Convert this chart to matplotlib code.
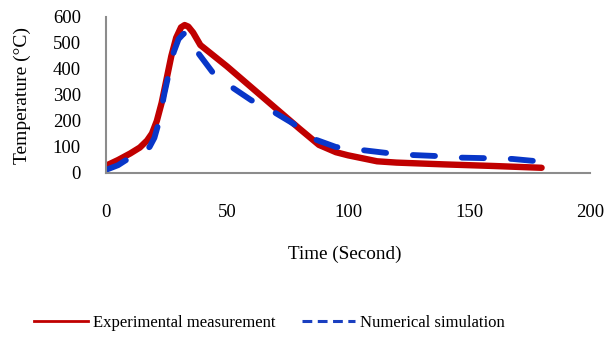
import matplotlib
matplotlib.use("Agg")
import matplotlib.pyplot as plt

t_exp = [0, 5, 10, 14, 17, 19, 21, 23, 25, 27, 29, 31, 32.5, 34, 36, 39, 50, 60, 70, 80, 88, 95, 100, 112, 120, 140, 160, 180]
T_exp = [28, 50, 75, 98, 125, 152, 200, 270, 360, 450, 520, 560, 569, 563, 540, 492, 410, 330, 250, 170, 108, 80, 68, 45, 40, 33, 27, 20]

t_num = [0, 5, 8, 12, 15, 18, 20, 22, 24, 26, 28, 30, 32, 33, 35, 37, 39, 44, 52, 60, 70, 77, 87, 95, 106, 116, 127, 137, 147, 157, 168, 176, 180]
T_num = [12, 30, 48, 65, 80, 100, 135, 200, 300, 385, 465, 515, 535, 538, 505, 475, 450, 388, 330, 280, 231, 192, 127, 100, 88, 77, 69, 65, 59, 57, 54, 47, 44]

x_ticks = [0, 50, 100, 150, 200]
y_ticks = [0, 100, 200, 300, 400, 500, 600]

plt.rcParams['font.family'] = ['Liberation Serif', 'DejaVu Serif']

fig = plt.figure(figsize=(6.06, 3.39), dpi=100)
ax = fig.add_axes([0.1749, 0.4897, 0.7987, 0.4602])

ax.plot(t_exp, T_exp, color='#c00000', lw=4.6, solid_capstyle='round', solid_joinstyle='round',
        label='Experimental measurement')
ax.plot(t_num, T_num, color='#0836c8', lw=4.2, linestyle=(0, (3.8, 4.6)), dash_capstyle='round',
        label='Numerical simulation')

ax.set_xlim(0, 200)
ax.set_ylim(0, 600)
ax.set_xticks(x_ticks)
ax.set_yticks(y_ticks)
for s in ['top', 'right']:
    ax.spines[s].set_visible(False)
for s in ['left', 'bottom']:
    ax.spines[s].set_color('#8c8c8c')
    ax.spines[s].set_linewidth(1.5)
ax.tick_params(axis='both', length=0, labelsize=13.5, colors='black')
ax.tick_params(axis='x', pad=22)
ax.tick_params(axis='y', pad=18)

ax.set_xlabel('Time (Second)', fontsize=13.8)
ax.xaxis.set_label_coords(0.494, -0.468)
ax.set_ylabel('Temperature (°C)', fontsize=14)
ax.yaxis.set_label_coords(-0.155, 0.494)

leg_handles = [
    plt.Line2D([], [], color='#c00000', lw=2.0),
    plt.Line2D([], [], color='#1a3fc0', lw=2.2, linestyle=(0, (3.2, 1.8))),
]
fig.legend(leg_handles, ['Experimental measurement', 'Numerical simulation'],
           loc='center', bbox_to_anchor=(0.445, 0.047), ncol=2, frameon=False,
           fontsize=12, handlelength=3.2, handletextpad=0.3, columnspacing=1.6)

fig.savefig('out.png', dpi=100)
